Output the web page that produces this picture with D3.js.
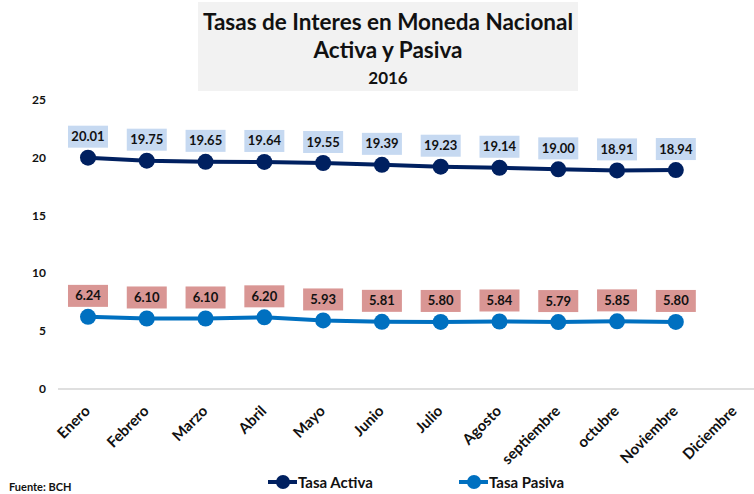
<!DOCTYPE html>
<html>
<head>
<meta charset="utf-8">
<script src="https://cdn.jsdelivr.net/npm/d3@7"></script>
<style>
  body { margin: 0; background: #fff; }
  text { font-family: Lato, "Open Sans", sans-serif; font-weight: bold; }
</style>
</head>
<body>
<div id="chart"></div>
<script>
// data
var meses = ["Enero", "Febrero", "Marzo", "Abril", "Mayo", "Junio", "Julio",
             "Agosto", "septiembre", "octubre", "Noviembre", "Diciembre"];
var tasaActiva = [20.01, 19.75, 19.65, 19.64, 19.55, 19.39, 19.23, 19.14, 19.00, 18.91, 18.94];
var tasaPasiva = [6.24, 6.10, 6.10, 6.20, 5.93, 5.81, 5.80, 5.84, 5.79, 5.85, 5.80];
var yTicks = [0, 5, 10, 15, 20, 25];

var width = 754, height = 494;

var svg = d3.select("#chart")
    .append("svg")
    .attr("width", width)
    .attr("height", height);

// title box
svg.append("rect")
    .attr("x", 198).attr("y", 2)
    .attr("width", 380).attr("height", 89)
    .attr("fill", "#f2f2f2");

var titulo = ["Tasas de Interes en Moneda Nacional", "Activa y Pasiva", "2016"];
svg.selectAll(".titulo")
    .data(titulo)
    .enter().append("text")
    .attr("class", "titulo")
    .attr("x", 388)
    .attr("y", (d, i) => [30, 58, 84][i])
    .attr("text-anchor", "middle")
    .style("font-size", (d, i) => i < 2 ? "22.5px" : "17px")
    .attr("fill", "#111")
    .text(d => d);

var x = d3.scaleBand().domain(meses).range([58.6, 764]);
var y = d3.scaleLinear().domain([0, 25]).range([389, 100]);
var cx = d => x(d) + x.bandwidth() / 2;

// y axis labels (no axis line, no gridlines)
svg.selectAll(".ytick")
    .data(yTicks)
    .enter().append("text")
    .attr("x", 46)
    .attr("y", d => y(d) + 4)
    .attr("text-anchor", "end")
    .style("font-size", "12px")
    .attr("fill", "#111")
    .text(d => d);

// x axis line
svg.append("line")
    .attr("x1", 58).attr("x2", width)
    .attr("y1", y(0)).attr("y2", y(0))
    .attr("stroke", "#bfbfbf").attr("stroke-width", 1);

svg.selectAll(".xlab")
    .data(meses)
    .enter().append("text")
    .attr("text-anchor", "end")
    .attr("transform", d => `translate(${cx(d) + 3},${412}) rotate(-45)`)
    .style("font-size", "15px")
    .attr("fill", "#111")
    .text(d => d);

function serie(vals, color, boxColor) {
    var pts = vals.map((v, i) => [cx(meses[i]), y(v)]);
    svg.append("path")
        .attr("d", d3.line()(pts))
        .attr("fill", "none")
        .attr("stroke", color)
        .attr("stroke-width", 4);
    svg.append("g").selectAll("circle")
        .data(pts)
        .enter().append("circle")
        .attr("cx", d => d[0]).attr("cy", d => d[1])
        .attr("r", 8)
        .attr("fill", color);
    var lab = svg.append("g").selectAll("g")
        .data(vals)
        .enter().append("g")
        .attr("transform", (d, i) => `translate(${pts[i][0]},${pts[i][1] - 21})`);
    lab.append("rect")
        .attr("x", -20).attr("y", -11)
        .attr("width", 40).attr("height", 22)
        .attr("fill", boxColor);
    lab.append("text")
        .attr("text-anchor", "middle")
        .attr("y", 4.5)
        .style("font-size", "13px")
        .attr("fill", "#111")
        .text(d => d.toFixed(2));
}

serie(tasaActiva, "#002060", "#c6d9f1");
serie(tasaPasiva, "#0070c0", "#d99694");

// legend
var leyenda = [["Tasa Activa", "#002060", 268], ["Tasa Pasiva", "#0070c0", 459]];
var lg = svg.selectAll(".leg")
    .data(leyenda)
    .enter().append("g")
    .attr("transform", d => `translate(${d[2]},482)`);
lg.append("line")
    .attr("x1", 0).attr("x2", 29)
    .attr("stroke", d => d[1]).attr("stroke-width", 4);
lg.append("circle")
    .attr("cx", 15).attr("r", 7)
    .attr("fill", d => d[1]);
lg.append("text")
    .attr("x", 30).attr("y", 5.5)
    .style("font-size", "15px")
    .attr("fill", "#111")
    .text(d => d[0]);

svg.append("text")
    .attr("x", 9).attr("y", 491)
    .style("font-size", "11px")
    .attr("fill", "#111")
    .text("Fuente: BCH");
</script>
</body>
</html>
